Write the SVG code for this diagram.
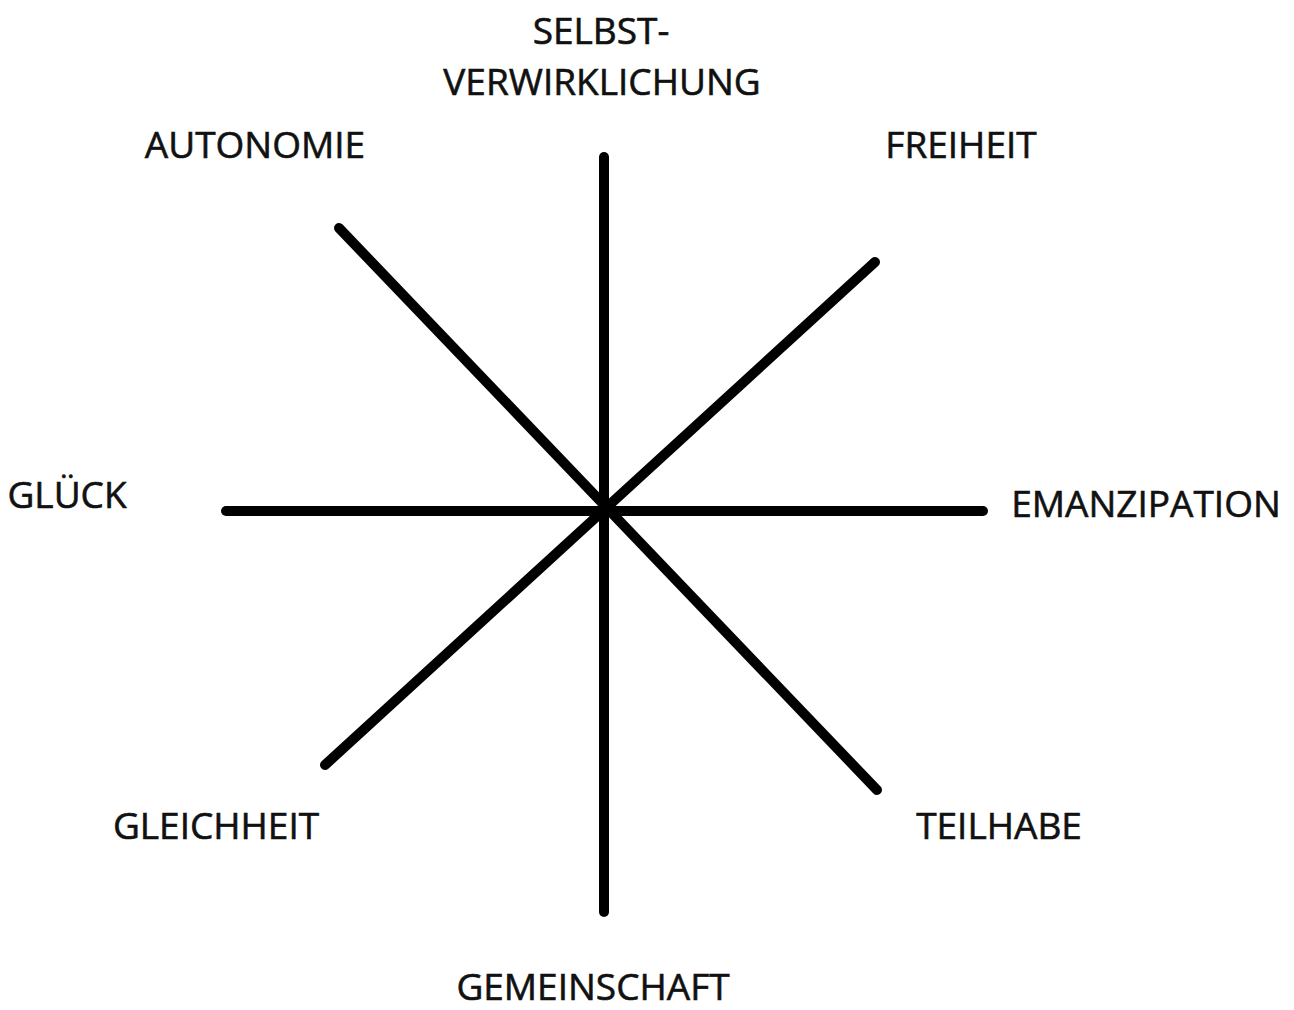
<svg xmlns="http://www.w3.org/2000/svg" width="1294" height="1010" viewBox="0 0 1294 1010">
<style>
.lbl{font-family:"Open Sans","Liberation Sans",sans-serif;font-size:37px;fill:#111;stroke:#111;stroke-width:0.6;text-anchor:middle}
.ln{stroke:#000;stroke-width:10;stroke-linecap:round;fill:none}
</style>
<rect width="1294" height="1010" fill="#fff"/>
<g id="connectors">
<line class="ln" x1="604" y1="157" x2="604" y2="912"/>
<line class="ln" x1="226" y1="511" x2="983" y2="511"/>
<line class="ln" x1="339" y1="228" x2="877" y2="790"/>
<line class="ln" x1="875" y1="262" x2="325" y2="765"/>
</g>
<g id="node-selbstverwirklichung"><text class="lbl" x="601" y="44">SELBST-</text><text class="lbl" x="602" y="95">VERWIRKLICHUNG</text></g>
<g id="node-autonomie"><text class="lbl" x="255" y="158">AUTONOMIE</text></g>
<g id="node-freiheit"><text class="lbl" x="961" y="158">FREIHEIT</text></g>
<g id="node-glueck"><text class="lbl" x="67" y="508">GLÜCK</text></g>
<g id="node-emanzipation"><text class="lbl" x="1146" y="517">EMANZIPATION</text></g>
<g id="node-gleichheit"><text class="lbl" x="216" y="839">GLEICHHEIT</text></g>
<g id="node-teilhabe"><text class="lbl" x="999" y="839">TEILHABE</text></g>
<g id="node-gemeinschaft"><text class="lbl" x="593" y="1000">GEMEINSCHAFT</text></g>
</svg>
